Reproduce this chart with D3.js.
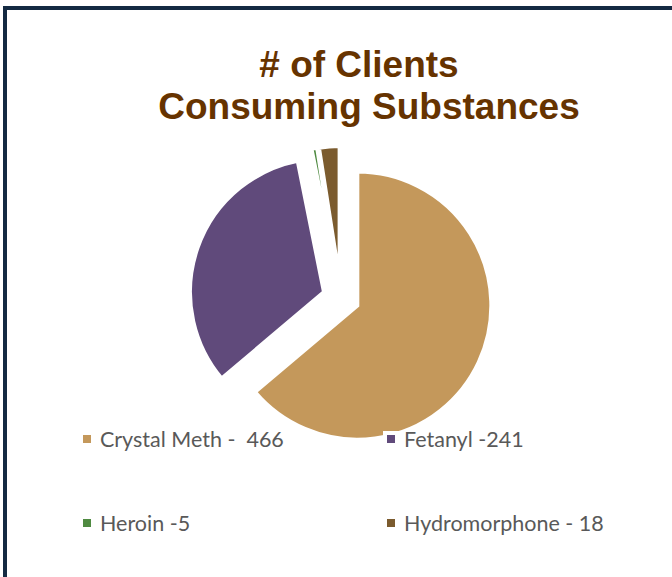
<!DOCTYPE html>
<html>
<head>
<meta charset="utf-8">
<script src="https://cdnjs.cloudflare.com/ajax/libs/d3/7.8.5/d3.min.js"></script>
<style>
    body { margin: 0; background: #fff; }
    svg { display: block; }
</style>
</head>
<body>
<svg id="chart" width="672" height="577"></svg>
<script>
// Chart data
const categories = ['Crystal Meth', 'Fetanyl', 'Heroin', 'Hydromorphone'];
const clientCounts = [466, 241, 5, 18];
const legendLabels = ['Crystal Meth -  466', 'Fetanyl -241', 'Heroin -5', 'Hydromorphone - 18'];
const titleLines = ['# of Clients', 'Consuming Substances'];

const sliceColors = ['#c4985b', '#604a7b', '#4f8a41', '#7b5b2e'];

function drawChart() {
    const svg = d3.select('#chart');
    const width = 672;
    const height = 577;

    // Card border (left and top only)
    svg.append('rect').attr('x', 3).attr('y', 6).attr('width', 4).attr('height', height - 6).attr('fill', '#142a42');
    svg.append('rect').attr('x', 3).attr('y', 6).attr('width', width - 3).attr('height', 4).attr('fill', '#142a42');

    // Title
    const titleX = [359, 369];
    const titleY = [77, 119];
    svg.selectAll('.title')
        .data(titleLines)
        .enter().append('text')
        .attr('class', 'title')
        .attr('x', (d, i) => titleX[i])
        .attr('y', (d, i) => titleY[i])
        .attr('text-anchor', 'middle')
        .style('font-family', '"Liberation Sans", Arial, sans-serif')
        .style('font-weight', 'bold')
        .style('font-size', '37px')
        .style('fill', '#663300')
        .text(d => d);

    // Exploded pie
    const radius = 134;
    const explode = 18;
    const pie = d3.pie().value(d => d).sort(null);
    const arc = d3.arc().innerRadius(0).outerRadius(radius);

    const g = svg.append('g').attr('transform', 'translate(341,298)');

    g.selectAll('path')
        .data(pie(clientCounts))
        .enter().append('path')
        .attr('d', arc)
        .attr('fill', (d, i) => sliceColors[i])
        .attr('stroke', '#fff')
        .attr('stroke-width', 4)
        .attr('stroke-linejoin', 'miter')
        .attr('transform', d => {
            const mid = (d.startAngle + d.endAngle) / 2;
            return `translate(${Math.sin(mid) * explode},${-Math.cos(mid) * explode})`;
        });

    // Legend, 2 columns x 2 rows
    const colX = [83, 387];
    const rowY = [435, 519];
    const legend = svg.selectAll('.legend')
        .data(categories)
        .enter().append('g')
        .attr('class', 'legend')
        .attr('transform', (d, i) => `translate(${colX[i % 2]},${rowY[Math.floor(i / 2)]})`);

    legend.append('rect')
        .attr('x', -4)
        .attr('y', -4)
        .attr('width', 16)
        .attr('height', 22)
        .attr('fill', '#fff');

    legend.append('rect')
        .attr('width', 8)
        .attr('height', 8)
        .attr('fill', (d, i) => sliceColors[i]);

    legend.append('text')
        .attr('x', 17)
        .attr('y', 12)
        .style('font-family', 'Lato, "Open Sans", sans-serif')
        .style('font-size', '21.5px')
        .style('white-space', 'pre')
        .style('fill', '#595959')
        .text((d, i) => legendLabels[i]);
}

document.addEventListener('DOMContentLoaded', drawChart);
</script>
</body>
</html>
